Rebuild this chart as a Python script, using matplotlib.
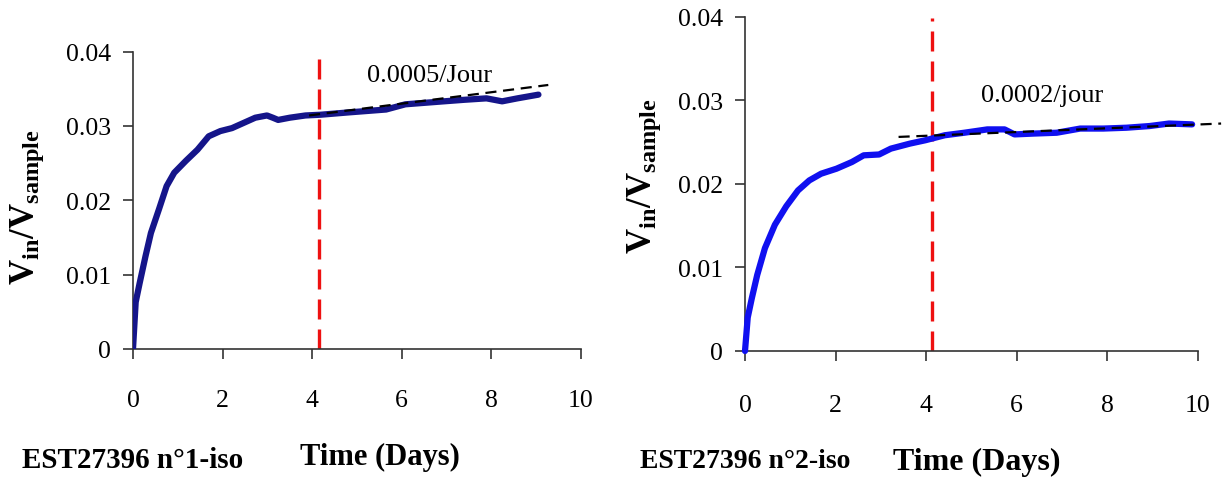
import matplotlib
matplotlib.use("Agg")
import matplotlib.pyplot as plt

plt.rcParams['font.family'] = ['Liberation Serif', 'DejaVu Serif']
plt.rcParams['mathtext.fontset'] = 'custom'
plt.rcParams['mathtext.rm'] = 'Liberation Serif'
plt.rcParams['mathtext.bf'] = 'Liberation Serif:bold'
plt.rcParams['mathtext.it'] = 'Liberation Serif:italic'

# ---- data ----
t1 = [0, 0.06, 0.15, 0.28, 0.40, 0.58, 0.75, 0.92, 1.18, 1.44, 1.69, 1.95, 2.21, 2.47,
      2.73, 2.99, 3.12, 3.24, 3.50, 3.85, 4.19, 4.79, 5.65, 6.08, 6.94, 7.38, 7.89, 8.24,
      8.58, 9.05]
v1 = [0, 0.0063, 0.0089, 0.0125, 0.0156, 0.0188, 0.0219, 0.0237, 0.0253, 0.0268, 0.0286,
      0.0293, 0.0297, 0.0304, 0.0311, 0.0314, 0.0311, 0.0308, 0.0311, 0.0314, 0.0315,
      0.0318, 0.0322, 0.0329, 0.0333, 0.0335, 0.0337, 0.0333, 0.0337, 0.0342]
trend1_t = [3.93, 9.27]
trend1_v = [0.0314, 0.0355]
cut1 = 4.15
label1 = "0.0005/Jour"

t2 = [0, 0.06, 0.15, 0.27, 0.44, 0.66, 0.91, 1.17, 1.42, 1.68, 2.02, 2.36, 2.62, 2.96,
      3.22, 3.64, 3.98, 4.41, 4.84, 5.35, 5.73, 5.95, 6.37, 6.88, 7.40, 7.91, 8.42, 8.93,
      9.36, 9.87]
v2 = [0, 0.0040, 0.0063, 0.0091, 0.0123, 0.0151, 0.0173, 0.0192, 0.0204, 0.0212, 0.0218,
      0.0226, 0.0234, 0.0235, 0.0242, 0.0248, 0.0252, 0.0258, 0.0261, 0.0265, 0.0265,
      0.0259, 0.0260, 0.0261, 0.0266, 0.0266, 0.0267, 0.0269, 0.0272, 0.0271]
trend2_t = [3.39, 10.51]
trend2_v = [0.0256, 0.0272]
cut2 = 4.12
label2 = "0.0002/jour"

xticks = [0, 2, 4, 6, 8, 10]
yticks = [0, 0.01, 0.02, 0.03, 0.04]
ytick_labels = ["0", "0.01", "0.02", "0.03", "0.04"]
ylabel = r'$\mathbf{V_{in}/V_{sample}}$'
sample1 = "EST27396 n°1-iso"
sample2 = "EST27396 n°2-iso"
xlabel = "Time (Days)"

W, H = 1225, 481
fig = plt.figure(figsize=(W / 100, H / 100), dpi=100)


def box(l, r, b, t):
    return [l / W, 1 - b / H, (r - l) / W, (b - t) / H]


ax1 = fig.add_axes(box(133, 581, 350, 52.5))
ax2 = fig.add_axes(box(745, 1198, 352, 17.5))


def style(ax, xpad):
    ax.set_xlim(0, 10)
    ax.set_ylim(0, 0.04)
    for s in ['top', 'right']:
        ax.spines[s].set_visible(False)
    for s in ['left', 'bottom']:
        ax.spines[s].set_color('#333333')
        ax.spines[s].set_linewidth(1.2)
    ax.set_xticks(xticks)
    ax.set_xticklabels([str(x) for x in xticks])
    ax.set_yticks(yticks)
    ax.set_yticklabels(ytick_labels)
    ax.tick_params(axis='x', direction='out', length=7, width=1.2, color='#333333',
                   labelsize=18.5, pad=xpad)
    ax.tick_params(axis='y', direction='out', length=7, width=1.2, color='#333333',
                   labelsize=18.5, pad=9)


style(ax1, 22)
style(ax2, 24)

ax1.plot(t1, v1, color='#15158a', lw=4.5, solid_capstyle='round', zorder=3)
ax1.plot(trend1_t, trend1_v, color='black', lw=1.6, ls=(0, (5, 3)), zorder=4)
ax1.axvline(cut1, ymin=0, ymax=1, color='#ee1111', lw=2.4, ls=(0, (6, 3)), zorder=2)
ax1.text(5.22, 0.0369, label1, fontsize=19, ha='left', va='center')

ax2.plot(t2, v2, color='#1010f0', lw=4.5, solid_capstyle='round', zorder=3, clip_on=False)
ax2.plot(trend2_t, trend2_v, color='black', lw=1.6, ls=(0, (5, 3)), zorder=4, clip_on=False)
ax2.axvline(cut2, ymin=0, ymax=0.995, color='#ee1111', lw=2.4, ls=(0, (6, 3)), zorder=2)
ax2.text(5.22, 0.0306, label2, fontsize=19, ha='left', va='center')

fig.text(27 / W, 1 - 207 / H, ylabel, fontsize=25, rotation=90, ha='center', va='center')
fig.text(644 / W, 1 - 176 / H, ylabel, fontsize=25, rotation=90, ha='center', va='center')

fig.text(22 / W, 1 - 460 / H, sample1, fontsize=21, fontweight='bold', ha='left', va='center')
fig.text(300 / W, 1 - 457 / H, xlabel, fontsize=22, fontweight='bold', ha='left', va='center')
fig.text(640 / W, 1 - 462 / H, sample2, fontsize=20, fontweight='bold', ha='left', va='center')
fig.text(893 / W, 1 - 462 / H, xlabel, fontsize=23, fontweight='bold', ha='left', va='center')

fig.savefig("out.png", dpi=100)
